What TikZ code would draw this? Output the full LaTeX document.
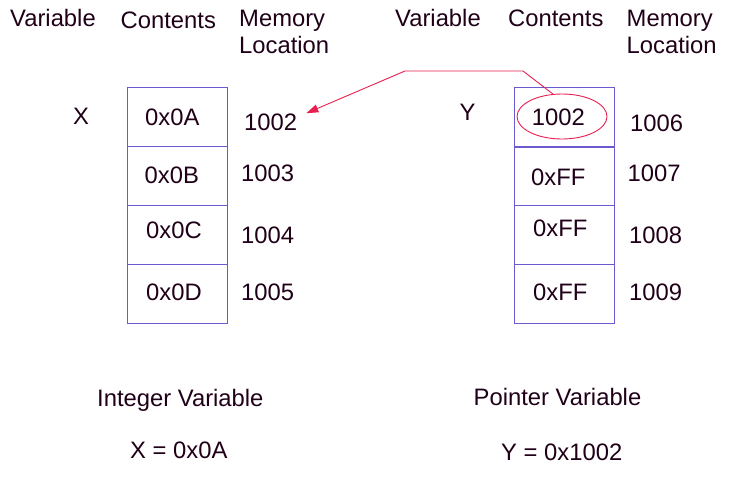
\documentclass[tikz,border=0pt]{standalone}
\usepackage{fontspec}
\setmainfont{Liberation Sans}
\usetikzlibrary{shapes.geometric,arrows.meta}
\definecolor{txt}{RGB}{32,0,24}
\definecolor{boxc}{RGB}{106,90,205}
\definecolor{ptrc}{RGB}{232,32,80}
\begin{document}
\begin{tikzpicture}[x=1pt,y=-1pt,
  lbl/.style={anchor=base west,inner sep=0pt,text=txt,font=\fontsize{23.8}{28}\selectfont},
  cell/.style={draw=boxc,line width=1pt,minimum width=100pt,minimum height=59pt,inner sep=0pt},
  ptrline/.style={draw=ptrc,line width=0.9pt}]
\useasboundingbox (0,0) rectangle (735,498);
\fill[white] (0,0) rectangle (735,498);
% headers
\node[lbl] (hv1) at (10,26.7) {Variable};
\node[lbl] (hc1) at (120.5,28.3) {Contents};
\node[lbl] (hm1) at (239,26) {Memory};
\node[lbl] (hl1) at (239,53.3) {Location};
\node[lbl] (hv2) at (395,26.7) {Variable};
\node[lbl] (hc2) at (508,26.7) {Contents};
\node[lbl] (hm2) at (626.5,26) {Memory};
\node[lbl] (hl2) at (626.5,53.3) {Location};
% left cells
\node[cell] (xa) at (177,116.5) {};
\node[cell] (xb) at (177,175.5) {};
\node[cell] (xc) at (177,234.5) {};
\node[cell] (xd) at (177,293.5) {};
% right cells
\node[cell] (ya) at (564,117) {};
\node[cell] (yb) at (564,176) {};
\node[cell] (yc) at (564,234.8) {};
\node[cell] (yd) at (564,293.6) {};
\draw[boxc,line width=2pt] (ya.south west) -- (ya.south east);
% variable names
\node[lbl] (vx) at (73,124) {X};
\node[lbl] (vy) at (459.5,120) {Y};
% left contents and addresses
\node[lbl] (cxa) at (145,125) {0x0A};
\node[lbl] (cxb) at (144.5,183.5) {0x0B};
\node[lbl] (cxc) at (146,238.5) {0x0C};
\node[lbl] (cxd) at (146,300) {0x0D};
\node[lbl] (la1002) at (244,130) {1002};
\node[lbl] (la1003) at (241,181.7) {1003};
\node[lbl] (la1004) at (241,243.3) {1004};
\node[lbl] (la1005) at (241,300) {1005};
% right contents and addresses
\node[ellipse,ptrline,minimum width=90pt,minimum height=45pt,inner sep=0pt] (ptr) at (562,116.5) {};
\node[lbl] (cya) at (531.7,125) {1002};
\node[lbl] (cyb) at (531,185) {0xFF};
\node[lbl] (cyc) at (533,236.7) {0xFF};
\node[lbl] (cyd) at (533,300) {0xFF};
\node[lbl] (lb1006) at (630,131) {1006};
\node[lbl] (lb1007) at (627.5,181.7) {1007};
\node[lbl] (lb1008) at (629,243.3) {1008};
\node[lbl] (lb1009) at (629,300) {1009};
% pointer arrow
\coordinate (b1) at (523,71);
\coordinate (b2) at (405,71);
\draw[ptrline,-{Triangle[length=12pt,width=8pt]}] (ptr.112) -- (b1) -- (b2) -- ([xshift=9pt]la1002.north east);
% captions
\node[lbl] (capx) at (97,406.7) {Integer Variable};
\node[lbl] (eqx) at (130,458) {X = 0x0A};
\node[lbl] (capy) at (473.5,405) {Pointer Variable};
\node[lbl] (eqy) at (501,460) {Y = 0x1002};
\end{tikzpicture}
\end{document}
